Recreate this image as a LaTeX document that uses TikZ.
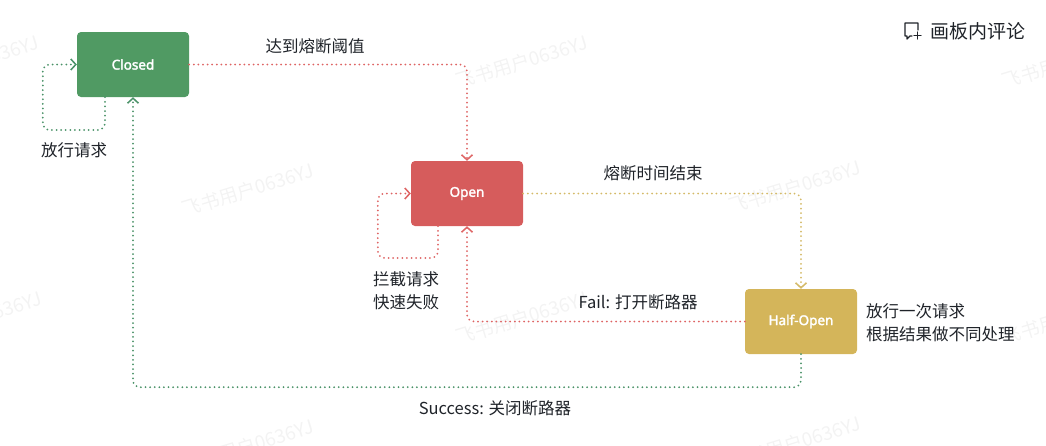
\documentclass[tikz,border=0pt]{standalone}
\usepackage{fontspec}
\setmainfont{Noto Sans CJK SC}
\newfontfamily\labfont{Noto Sans}[AutoFakeBold=2.2]
\usetikzlibrary{arrows.meta}
\definecolor{cgreen}{RGB}{80,154,99}
\definecolor{cred}{RGB}{214,92,92}
\definecolor{cyellow}{RGB}{212,181,90}
\definecolor{lgreen}{RGB}{74,146,104}
\definecolor{lred}{RGB}{222,100,100}
\definecolor{lyellow}{RGB}{212,186,104}
\definecolor{ctext}{RGB}{31,35,41}
\definecolor{wmark}{RGB}{243,243,243}
\tikzset{
  statebox/.style={rounded corners=4pt, minimum width=112pt, minimum height=65pt,
    text=white, font=\labfont\bfseries\fontsize{13.5}{16}\selectfont, inner sep=0pt},
  dotline/.style={line width=2pt, line cap=round, dash pattern=on 0pt off 4.6pt,
    rounded corners=7pt, -{Straight Barb[length=5pt,width=11pt,line width=1.5pt]}},
  lbl/.style={text=ctext, font=\fontsize{16.5}{23}\selectfont, inner sep=0pt},
  wm/.style={text=wmark, font=\fontsize{19}{22}\selectfont, rotate=17, inner sep=0pt}
}
\begin{document}
\begin{tikzpicture}[x=1pt,y=-1pt]
\useasboundingbox (0,0) rectangle (1046,445);
% watermarks
\foreach \px/\py in {-27/62, -24/318, 522/62, 522/318, 1068/62, 1068/318, 248/190, 248/446, 795/187, 795/443}
  \node[wm] at (\px,\py) {飞书用户0636YJ};
% states
\node[statebox, fill=cgreen] (closed) at (133,64.5) {Closed};
\node[statebox, fill=cred] (open) at (467,193.5) {Open};
\node[statebox, fill=cyellow] (half) at (801,321.5) {Half-Open};
% connectors
\draw[dotline, draw=lred] (closed.east) -| (open.north);
\draw[dotline, draw=lgreen] ([xshift=-28pt]closed.south) -- ([xshift=-28pt]closed.south |- 0,130)
   -| ([xshift=-34pt]closed.west) -- (closed.west);
\draw[dotline, draw=lred] ([xshift=-29pt]open.south) -- ([xshift=-29pt]open.south |- 0,258)
   -| ([xshift=-33pt]open.west) -- (open.west);
\draw[dotline, draw=lyellow] (open.east) -| (half.north);
\draw[dotline, draw=lred] (half.west) -| (open.south);
\draw[dotline, draw=lgreen] (half.south) -- ([yshift=-33pt]half.south) -| (closed.south);
% labels
\node[lbl] (l1) at (315,46) {达到熔断阈值};
\node[lbl] (l2) at (74,150) {放行请求};
\node[lbl, anchor=west, align=left] (l3) at (373,290.5) {拦截请求\\快速失败};
\node[lbl] (l4) at (653,173) {熔断时间结束};
\node[lbl] (l5) at (638,302) {Fail: 打开断路器};
\node[lbl] (l6) at (495,408) {Success: 关闭断路器};
\node[lbl, anchor=west, align=left] (l7) at (866,322.5) {放行一次请求\\根据结果做不同处理};
% comment button
\draw[ctext, line width=1.3pt, line cap=round, line join=round]
  (918,30) -- (918,23) -- (905,23) -- (905,36) -- (907,36) -- (907,39) -- (910,36) -- (912,36);
\draw[ctext, line width=1.3pt, line cap=round] (914,35.5) -- (921,35.5) (917.5,32) -- (917.5,39);
\node[text=ctext, font=\fontsize{19}{22}\selectfont, anchor=west, inner sep=0pt] (cmt) at (930,31) {画板内评论};
\end{tikzpicture}
\end{document}
